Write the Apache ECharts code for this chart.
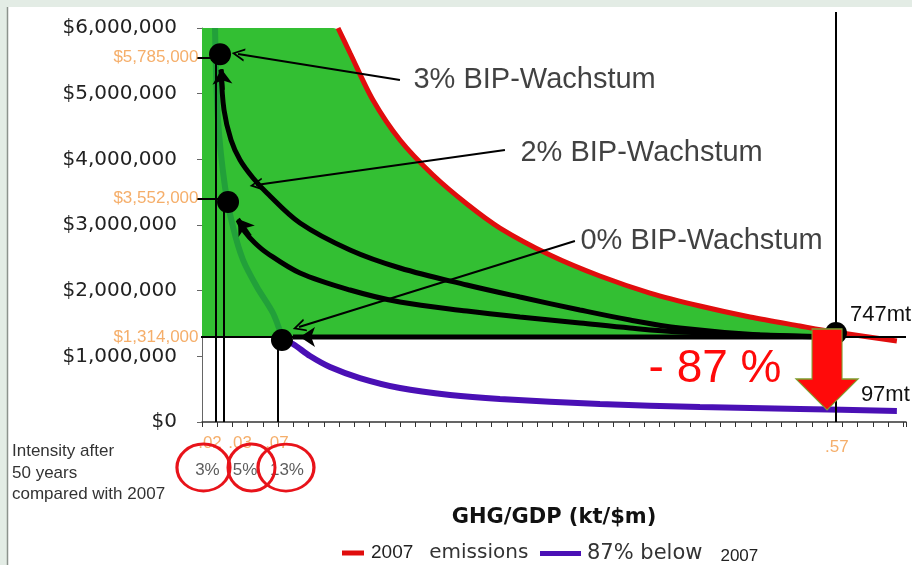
<!DOCTYPE html>
<html>
<head>
<meta charset="utf-8">
<script src="https://cdn.jsdelivr.net/npm/echarts@6/dist/echarts.min.js"></script>
<style>
html, body { margin: 0; padding: 0; background: #fff; }
#chart { width: 912px; height: 565px; }
</style>
</head>
<body>
<div id="chart"></div>
<script>
// x = GHG intensity (kt/$m), y = GDP ($m)

// 2007 emissions (747 mt)
var emissions2007X = [0.1223, 0.1331, 0.1537, 0.1780, 0.2077, 0.2382, 0.2679, 0.3129, 0.3578, 0.4028, 0.4477, 0.4927, 0.5376, 0.5691, 0.6248];
var emissions2007Y = [6000000, 5619000, 4903000, 4294000, 3761000, 3320000, 2954000, 2543000, 2223000, 1964000, 1766000, 1599000, 1462000, 1370000, 1233000];

// 87% below 2007 (97 mt): dark green part above today's GDP, purple part below
var below87UpperX = [0.0117, 0.0144, 0.0207, 0.0279, 0.0369, 0.0494, 0.0638, 0.0719];
var below87UpperY = [6000000, 4599000, 3579000, 2969000, 2467000, 2056000, 1660000, 1294000];
var below87X = [0.0719, 0.0818, 0.0971, 0.1151, 0.1420, 0.1780, 0.2230, 0.2679, 0.3578, 0.4477, 0.5376, 0.6248];
var below87Y = [1260000, 1188000, 1005000, 838000, 670000, 518000, 411000, 350000, 274000, 228000, 198000, 168000];

// growth paths over 50 years
var growth3X = [0.0171, 0.0198, 0.0261, 0.0342, 0.0459, 0.0584, 0.0881, 0.1331, 0.1780, 0.2382, 0.2859, 0.3398, 0.3848, 0.4297, 0.5017, 0.5691];
var growth3Y = [5360000, 4751000, 4294000, 3990000, 3716000, 3487000, 3030000, 2619000, 2345000, 2086000, 1903000, 1706000, 1553000, 1431000, 1325000, 1294000];
var growth2X = [0.0324, 0.0387, 0.0476, 0.0584, 0.0881, 0.1331, 0.1780, 0.2382, 0.2859, 0.3398, 0.3848, 0.4297, 0.5017, 0.5691];
var growth2Y = [3076000, 2893000, 2726000, 2574000, 2269000, 2010000, 1827000, 1690000, 1599000, 1508000, 1431000, 1370000, 1325000, 1294000];
var growth0X = [0.0818, 0.5691];
var growth0Y = [1294000, 1294000];
var headFrom = [[0.0187, 5056000], [0.0432, 2832000], [0.1061, 1294000]];
var headTo = [[0.0175, 5375000], [0.0324, 3091000], [0.0881, 1294000]];

// today's GDP level and the end points
var gdpToday = 1294000;
var dotX = [0.0162, 0.0234, 0.0719, 0.5700];
var dotY = [5600000, 3350000, 1250000, 1355000];
var dropX = [0.0126, 0.0198, 0.0683, 0.5700];
var dropTop = [5512000, 3350000, 1249000, 6243000];

var gdpLabels = ['$5,785,000', '$3,552,000', '$1,314,000'];
var gdpLabelY = [5550000, 3400000, 1294000];
var intensityLabels = ['.02', '.03', '.07', '.57'];
var intensityLabelX = [0.0072, 0.0342, 0.0674, 0.5709];
var intensityLabelY = [-320000, -320000, -320000, -381000];
var ringLabels = ['3%', '5%', '13%'];
var ringLabelX = [0.0049, 0.0387, 0.0764];
var ringX = [0.0013, 0.0445, 0.0755];
var ringY = -693000;
var ringLabelY = -731000;

var growthLabels = ['3% BIP-Wachstum', '2% BIP-Wachstum', '0% BIP-Wachstum'];
var growthLabelPos = [[0.1897, 5208000], [0.2859, 4096000], [0.3398, 2756000]];
var pointerFrom = [[0.1780, 5208000], [0.2724, 4142000], [0.3353, 2756000]];
var pointerTo = [[0.0324, 5604000], [0.0486, 3609000], [0.0872, 1447000]];

var totalLabels = ['747mt', '97mt'];
var reductionLabel = '- 87 %';
var reductionArrowAt = [0.562, 800000];

function money(v) {
	return '$' + String(Math.round(v)).replace(/\B(?=(\d{3})+(?!\d))/g, ',');
}
function pairs(xs, ys) {
	return xs.map(function (x, i) { return [x, ys[i]]; });
}

var chart = echarts.init(document.getElementById('chart'));

var redPts = pairs(emissions2007X, emissions2007Y);
var greenPts = [[0, 6000000], [0.1178, 6000000]].concat(redPts.filter(function (p) { return p[0] <= 0.5691 && p[0] > 0.13; }));

var hidden = { color: 'rgba(0,0,0,0)' };
var orange = '#f39a45';

var option = {
	animation: false,
	backgroundColor: '#ffffff',
	textStyle: { fontFamily: 'Liberation Sans' },
	grid: { left: 202, top: 28, width: 704, height: 394 },
	legend: [
		{
			data: ['2007 emissions'], left: 337, top: 538, icon: 'rect', itemWidth: 22, itemHeight: 5,
			selectedMode: false,
			formatter: function () { return '{a|2007}{b|emissions}'; },
			textStyle: { rich: {
				a: { fontFamily: 'Liberation Sans', fontSize: 19, color: '#222', padding: [0, 0, 0, 2] },
				b: { fontFamily: 'DejaVu Sans', fontSize: 20, color: '#333', padding: [0, 0, 0, 16] }
			} }
		},
		{
			data: ['87% below 2007'], left: 535, top: 538, icon: 'rect', itemWidth: 41, itemHeight: 5,
			selectedMode: false,
			formatter: function () { return '{b|87% below}{c|2007}'; },
			textStyle: { rich: {
				b: { fontFamily: 'DejaVu Sans', fontSize: 21, color: '#333', padding: [0, 0, 0, 1] },
				c: { fontFamily: 'Liberation Sans', fontSize: 17, color: '#222', padding: [6, 0, 0, 18] }
			} }
		}
	],
	xAxis: {
		type: 'value', min: 0, max: 0.633, interval: 0.01371,
		name: 'GHG/GDP (kt/$m)', nameLocation: 'middle', nameGap: 85,
		nameTextStyle: { fontFamily: 'DejaVu Sans', fontWeight: 'bold', fontSize: 21, color: '#111' },
		axisLine: { lineStyle: { color: '#333', width: 1.5 } },
		axisTick: { length: 5, lineStyle: { color: '#333' } },
		axisLabel: { show: false },
		splitLine: { show: false }
	},
	yAxis: {
		type: 'value', min: 0, max: 6000000, interval: 1000000,
		axisLine: { show: true, lineStyle: { color: '#666' } },
		axisTick: { show: true, length: 5, lineStyle: { color: '#666' } },
		axisLabel: { margin: 25, formatter: money, fontFamily: 'DejaVu Sans', fontSize: 20, color: '#222' },
		splitLine: { show: false }
	},
	graphic: [
		{ type: 'rect', shape: { x: 0, y: 0, width: 912, height: 7 }, style: { fill: '#e3ece5' }, silent: true },
		{ type: 'rect', shape: { x: 0, y: 0, width: 7, height: 565 }, style: { fill: '#e3ece5' }, silent: true },
		{ type: 'line', shape: { x1: 7.5, y1: 7, x2: 7.5, y2: 565 }, style: { stroke: '#8c928d', lineWidth: 1.5 }, silent: true },
		{ type: 'text', left: 12, top: 441, silent: true,
		  style: { text: 'Intensity after\n50 years\ncompared with 2007', fontFamily: 'Liberation Sans', fontSize: 17, fill: '#333', lineHeight: 21.5 } }
	],
	series: [
		{ // green band of feasible paths
			type: 'line', z: 1, data: greenPts, symbol: 'none', smooth: 0.3, silent: true,
			lineStyle: { width: 0 }, areaStyle: { color: '#33bf33', opacity: 1, origin: gdpToday }
		},
		{
			name: '2007 emissions', type: 'line', z: 2, data: redPts, symbol: 'none', smooth: 0.3,
			color: '#e00d0d', lineStyle: { color: '#e00d0d', width: 5 }
		},
		{
			type: 'line', z: 2, data: pairs(below87UpperX, below87UpperY), symbol: 'none', smooth: 0.3,
			lineStyle: { color: '#22a03a', width: 6 }
		},
		{
			name: '87% below 2007', type: 'line', z: 2, data: pairs(below87X, below87Y), symbol: 'none', smooth: 0.3,
			color: '#4a10b5', lineStyle: { color: '#4a10b5', width: 6 },
			endLabel: { show: true, formatter: totalLabels[1], offset: [-44, -16], fontSize: 22, color: '#111', fontFamily: 'Liberation Sans' }
		},
		{ // today's GDP level
			type: 'line', z: 3, data: [[-0.0045, gdpToday], [0.633, gdpToday]], symbol: 'none', clip: false,
			lineStyle: { color: '#000', width: 2 }
		},
		{ // ticks from axis to the end points
			type: 'lines', z: 3, coordinateSystem: 'cartesian2d', clip: false,
			lineStyle: { color: '#000', width: 2, opacity: 1 },
			data: [0, 1].map(function (i) { return { coords: [[-0.0045, gdpLabelY[i]], [dotX[i], gdpLabelY[i]]] }; })
		},
		{ // drop lines to the intensity axis
			type: 'lines', z: 3, coordinateSystem: 'cartesian2d', clip: false,
			lineStyle: { color: '#000', width: 2, opacity: 1 },
			data: dropX.map(function (x, i) { return { coords: [[x, dropTop[i]], [x, 0]] }; })
		},
		{ type: 'line', z: 4, data: pairs(growth3X, growth3Y), symbol: 'none', smooth: 0.35, lineStyle: { color: '#000', width: 5 } },
		{ type: 'line', z: 4, data: pairs(growth2X, growth2Y), symbol: 'none', smooth: 0.35, lineStyle: { color: '#000', width: 5 } },
		{ type: 'line', z: 4, data: pairs(growth0X, growth0Y), symbol: 'none', lineStyle: { color: '#000', width: 5 } },
		{ // arrow heads on the growth paths
			type: 'lines', z: 4, coordinateSystem: 'cartesian2d',
			symbol: ['none', 'arrow'], symbolSize: 15,
			lineStyle: { color: '#000', width: 4, opacity: 1 },
			data: headFrom.map(function (f, i) { return { coords: [f, headTo[i]] }; })
		},
		{ // pointers from the labels
			type: 'lines', z: 5, coordinateSystem: 'cartesian2d',
			symbol: ['none', 'path://M0,12L6,0L12,12L10.2,12L6,3.6L1.8,12Z'], symbolSize: 13,
			lineStyle: { color: '#000', width: 2, opacity: 1 },
			data: pointerFrom.map(function (f, i) { return { coords: [f, pointerTo[i]] }; })
		},
		{
			type: 'scatter', z: 6, data: pairs(dotX, dotY), symbolSize: 22, itemStyle: { color: '#000', opacity: 1 },
			label: {
				show: true, position: 'right', distance: 3, offset: [0, -18], fontSize: 22, color: '#111',
				formatter: function (p) { return p.dataIndex === 3 ? totalLabels[0] : ''; }
			}
		},
		{ // big red arrow
			type: 'scatter', z: 6, data: [reductionArrowAt], symbol: 'path://M16,0L46,0L46,50L62,50L31,81L0,50L16,50Z',
			symbolSize: [62, 81], itemStyle: { color: '#ff0a0a', opacity: 1, borderColor: '#7da030', borderWidth: 1.2 },
			label: { show: true, position: 'left', distance: 14, formatter: reductionLabel, fontSize: 46, color: '#ff0a0a', fontFamily: 'Liberation Sans' }
		},
		{ // GDP values on the y axis
			type: 'scatter', z: 7, clip: false, symbolSize: 1, itemStyle: hidden,
			data: gdpLabels.map(function (t, i) { return { name: t, value: [0, gdpLabelY[i]] }; }),
			label: { show: true, position: 'left', distance: 3, formatter: '{b}', fontSize: 17, color: orange, fontFamily: 'Liberation Sans' }
		},
		{ // intensity values under the x axis
			type: 'scatter', z: 7, clip: false, symbolSize: 1, itemStyle: hidden,
			data: intensityLabels.map(function (t, i) { return { name: t, value: [intensityLabelX[i], intensityLabelY[i]] }; }),
			label: { show: true, position: 'inside', formatter: '{b}', fontSize: 17, color: orange, fontFamily: 'Liberation Sans' }
		},
		{
			type: 'scatter', z: 7, clip: false, symbolSize: 1, itemStyle: hidden,
			data: ringLabels.map(function (t, i) { return { name: t, value: [ringLabelX[i], ringLabelY] }; }),
			label: { show: true, position: 'inside', formatter: '{b}', fontSize: 17, color: '#333', fontFamily: 'Liberation Sans' }
		},
		{ // red rings
			type: 'scatter', z: 8, clip: false,
			data: ringX.map(function (x) { return [x, ringY]; }),
			symbolSize: function (v, p) { return [[53, 47], [47, 47], [56, 47]][p.dataIndex]; },
			itemStyle: { color: 'rgba(0,0,0,0)', opacity: 1, borderColor: '#e8131a', borderWidth: 3 }
		},
		{ // growth labels
			type: 'scatter', z: 7, clip: false, symbolSize: 1, itemStyle: hidden,
			data: growthLabels.map(function (t, i) { return { name: t, value: growthLabelPos[i] }; }),
			label: { show: true, position: 'right', distance: 0, formatter: '{b}', fontSize: 29, color: '#111', fontFamily: 'Liberation Sans' }
		}
	]
};

chart.setOption(option);
</script>
</body>
</html>
